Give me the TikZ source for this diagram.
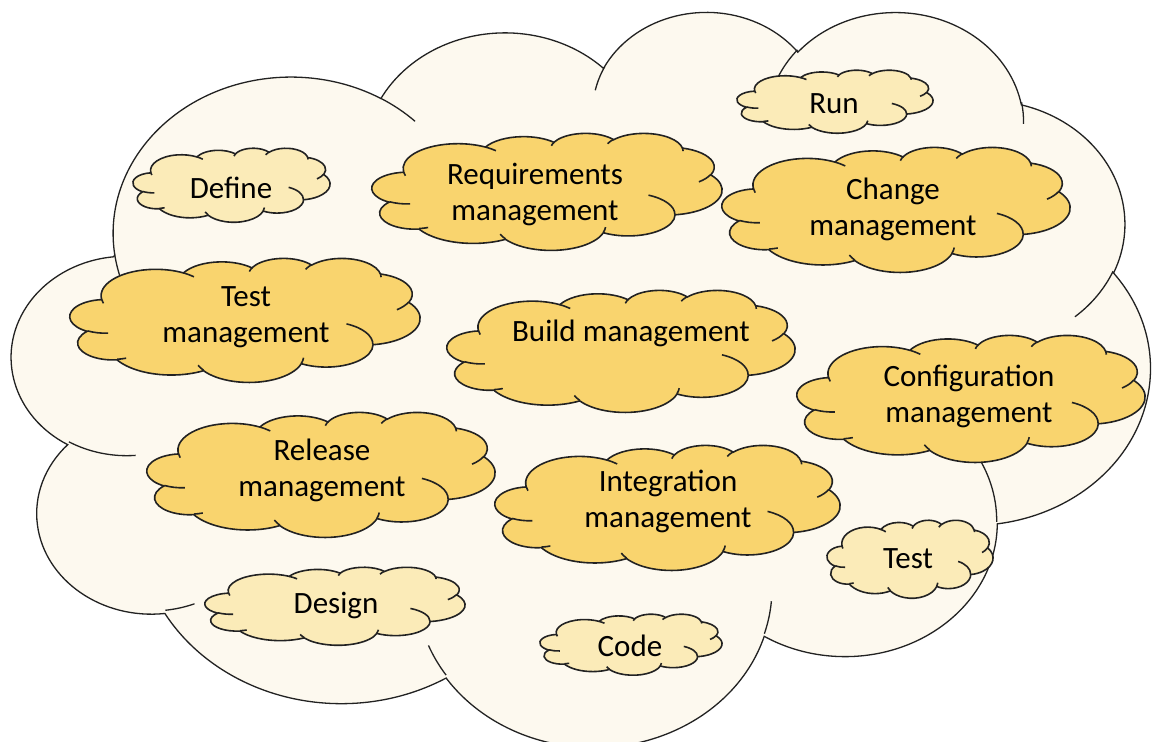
\documentclass[tikz,border=0pt]{standalone}
\usepackage{fontspec}
\setmainfont{Carlito}
\definecolor{bigfill}{HTML}{FDF9EF}
\definecolor{goldfill}{HTML}{F9D46E}
\definecolor{lightfill}{HTML}{FBEBB8}
\definecolor{edge}{HTML}{222222}
\tikzset{declare function={vp(\a,\b,\t)=atan2(\a*sin(\t),\b*cos(\t))+360*round((\t-atan2(\a*sin(\t),\b*cos(\t)))/360);}}
\newcommand\carc[4]{arc[x radius=#1, y radius=#2, start angle={vp(#1,#2,#3)}, end angle={vp(#1,#2,#3+#4)}]}
\newcommand\cloudouter{(3.9,14.37) \carc{6.753}{9.19}{-190.4875}{123.7805}
 \carc{5.333}{7.267}{-144.1024}{89.9452}
 \carc{4.365}{5.945}{-145.8079}{99.7230}
 \carc{4.857}{6.595}{-130.9861}{117.2417}
 \carc{5.333}{7.273}{-78.7089}{109.0269}
 \carc{6.775}{9.22}{-46.2673}{130.2690}
 \carc{5.785}{7.867}{0.6250}{114.0333}
 \carc{6.752}{9.215}{22.4516}{115.1726}
 \carc{7.72}{10.543}{66.2426}{75.7110}
 \carc{4.36}{5.918}{-274.9421}{146.7356}
 \carc{4.345}{5.945}{-246.8285}{152.5189} -- cycle}
\newcommand\cloudinner{(4.693,26.177) \carc{4.345}{5.945}{86.7420}{26.4295}
 (6.928,34.899) \carc{4.36}{5.918}{73.6105}{11.4475}
 (16.478,39.09) \carc{6.752}{9.215}{137.6242}{14.0811}
 (28.827,34.751) \carc{6.752}{9.215}{6.4533}{15.9984}
 (34.129,22.954) \carc{5.785}{7.867}{-70.2924}{70.9174}
 (41.798,15.354) \carc{5.333}{7.273}{30.3180}{27.7515}
 (38.324,5.426) \carc{4.857}{6.595}{-13.7443}{14.8589}
 (29.078,3.952) \carc{4.857}{6.595}{-149.1815}{18.1954}
 (22.141,4.72) \carc{4.365}{5.945}{-163.4943}{17.6864}
 (14,5.192) \carc{6.753}{9.19}{-66.7070}{12.3194}
 (4.127,15.789) \carc{6.753}{9.19}{157.6544}{11.8582}}
% #1 x, #2 y, #3 w, #4 h, #5 fill, #6 line width
\newcommand\officecloud[6]{%
  \pgfmathsetmacro\cwx{#3/43.2}%
  \pgfmathsetmacro\chy{#4/43.2}%
  \begin{scope}[shift={(#1,#2)}, x=\cwx pt, y=-\chy pt, line width=#6, draw=edge]
    \draw[fill=#5] \cloudouter;
    \draw \cloudinner;
  \end{scope}}
\begin{document}
\begin{tikzpicture}[x=1pt, y=-1pt,
  lbl/.style={align=center, inner sep=0pt, text=black, font=\fontsize{31}{36}\selectfont}]
\useasboundingbox (0,0) rectangle (1155,741);
\fill[white] (0,0) rectangle (1155,741);
\officecloud{12}{10}{1138}{735}{bigfill}{1.3pt}
\officecloud{133}{148}{197}{74}{lightfill}{1.6pt}
\officecloud{372}{133}{350}{117}{goldfill}{1.6pt}
\officecloud{737}{70}{196}{63}{lightfill}{1.6pt}
\officecloud{722}{147}{348}{125}{goldfill}{1.6pt}
\officecloud{70}{258}{350}{124}{goldfill}{1.6pt}
\officecloud{447}{290}{348}{122}{goldfill}{1.6pt}
\officecloud{797}{335}{348}{127}{goldfill}{1.6pt}
\officecloud{147}{412}{348}{125}{goldfill}{1.6pt}
\officecloud{495}{445}{345}{125}{goldfill}{1.6pt}
\officecloud{827}{520}{166}{78}{lightfill}{1.6pt}
\officecloud{205}{567}{260}{78}{lightfill}{1.6pt}
\officecloud{540}{614}{182}{61}{lightfill}{1.6pt}
\node[lbl] (define) at (231,188) {Define};
\node[lbl] (req) at (535,194) {Requirements\\management};
\node[lbl] (run) at (834,104) {Run};
\node[lbl] (change) at (893,209) {Change\\management};
\node[lbl] (testm) at (246,317) {Test\\management};
\node[lbl] (build) at (631,333) {Build management};
\node[lbl] (config) at (969,396) {Configuration\\management};
\node[lbl] (release) at (322,470) {Release\\management};
\node[lbl] (integ) at (668,501) {Integration\\management};
\node[lbl] (test) at (908,559) {Test};
\node[lbl] (design) at (336,605) {Design};
\node[lbl] (code) at (630,646) {Code};
\end{tikzpicture}
\end{document}
